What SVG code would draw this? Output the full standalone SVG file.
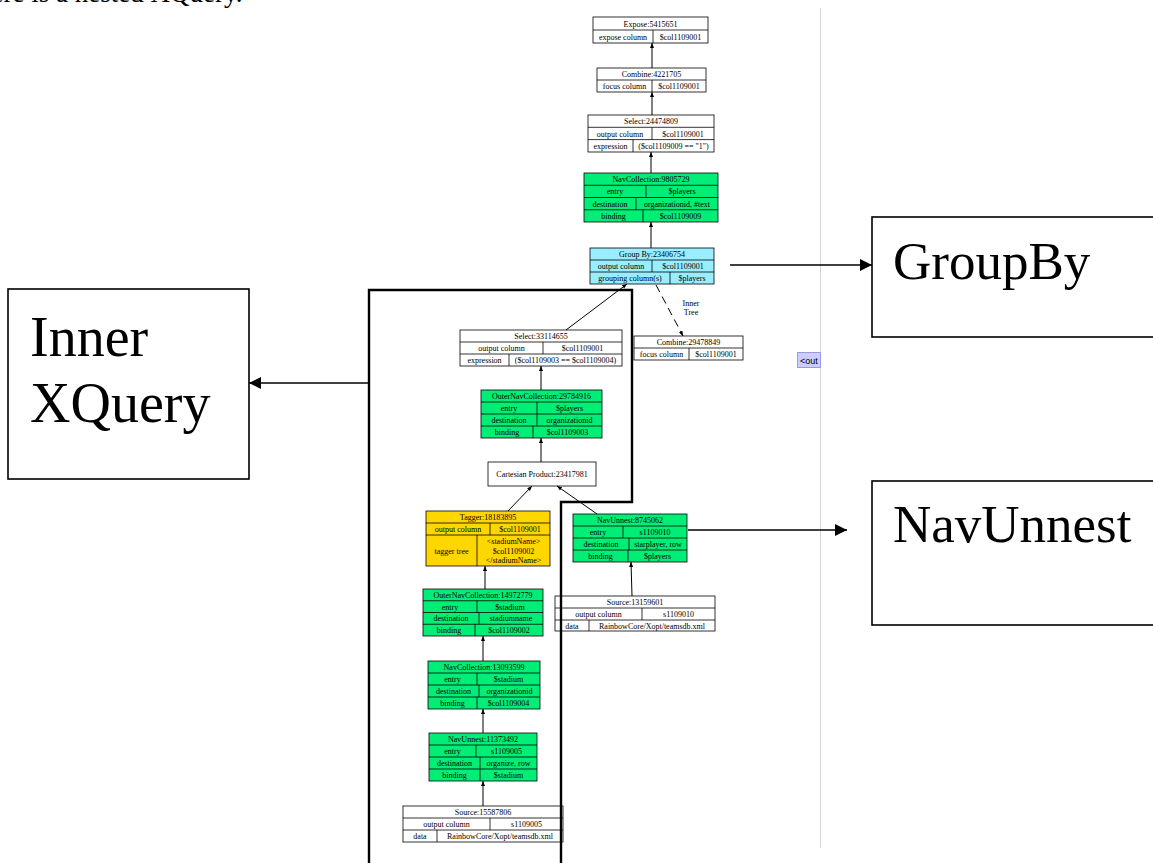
<svg xmlns="http://www.w3.org/2000/svg" width="1153" height="863" viewBox="0 0 1153 863">
  <style>
    .cell { stroke: #000; stroke-width: 0.8; fill: none; }
    .white { fill: #fff; }
    .green { fill: #00EE76; }
    .cyan { fill: #98EEFF; }
    .gold { fill: #FFD700; }
    .t { font-family: "Liberation Serif", "Times New Roman", serif; font-size: 8px; fill: #000; text-anchor: middle; }
    .edge { stroke: #000; stroke-width: 1; fill: none; }
    .note { stroke: #000; stroke-width: 1.6; fill: #fff; }
    .big { font-family: "Liberation Serif", "Times New Roman", serif; font-size: 56px; fill: #000; }
    .big2 { font-family: "Liberation Serif", "Times New Roman", serif; font-size: 53px; fill: #000; }
    .arrow { stroke: #000; stroke-width: 1.6; fill: none; }
  </style>
  <defs>
    <marker id="ah" viewBox="0 0 10 10" refX="10" refY="5" markerWidth="5" markerHeight="5" orient="auto" markerUnits="userSpaceOnUse">
      <path d="M0,1 L10,5 L0,9 Z" fill="#000"/>
    </marker>
    <marker id="big" viewBox="0 0 10 10" refX="10" refY="5" markerWidth="16" markerHeight="12" orient="auto" markerUnits="userSpaceOnUse">
      <path d="M0,0 L10,5 L0,10 Z" fill="#000"/>
    </marker>
  </defs>

  <rect width="1153" height="863" fill="#fff"/>

  <!-- heading, cut by the top edge -->
  <text x="-28" y="2" font-family="Liberation Serif, Times New Roman, serif" font-size="27" fill="#000">Here is a nested XQuery.</text>

  <!-- window edge and clipped tooltip -->
  <line x1="820.5" y1="8" x2="820.5" y2="848" stroke="#d4d4d4" stroke-width="1"/>
  <g id="tooltip">
    <rect x="797.5" y="352.5" width="23" height="15" fill="#ccccff" stroke="#9999dd" stroke-width="1"/>
    <text x="800" y="363.5" font-family="Liberation Sans, Arial, sans-serif" font-size="9" fill="#000">&lt;out</text>
  </g>

  <!-- plan nodes -->
  <g id="expose_5415651">
    <rect class="cell white" x="593" y="17" width="115" height="26"/>
    <line class="cell" x1="593" y1="30" x2="708" y2="30"/>
    <line class="cell" x1="653" y1="30" x2="653" y2="43"/>
    <text class="t" x="650.5" y="26.5">Expose:5415651</text>
    <text class="t" x="623" y="39.5">expose column</text>
    <text class="t" x="680.5" y="39.5">$col1109001</text>
  </g>

  <g id="combine_4221705">
    <rect class="cell white" x="597" y="68" width="109" height="24"/>
    <line class="cell" x1="597" y1="80" x2="706" y2="80"/>
    <line class="cell" x1="652" y1="80" x2="652" y2="92"/>
    <text class="t" x="651.5" y="77">Combine:4221705</text>
    <text class="t" x="624.5" y="89">focus column</text>
    <text class="t" x="679" y="89">$col1109001</text>
  </g>

  <g id="select_24474809">
    <rect class="cell white" x="588" y="115" width="126" height="37"/>
    <line class="cell" x1="588" y1="127.3" x2="714" y2="127.3"/>
    <line class="cell" x1="588" y1="139.6" x2="714" y2="139.6"/>
    <line class="cell" x1="652" y1="127.3" x2="652" y2="139.6"/>
    <line class="cell" x1="633" y1="139.6" x2="633" y2="152"/>
    <text class="t" x="651" y="124">Select:24474809</text>
    <text class="t" x="620" y="136.5">output column</text>
    <text class="t" x="683" y="136.5">$col1109001</text>
    <text class="t" x="610.5" y="148.8">expression</text>
    <text class="t" x="673.5" y="148.8">($col1109009 == "1")</text>
  </g>

  <g id="navcollection_9805729">
    <rect class="cell green" x="584" y="173" width="134" height="49"/>
    <line class="cell" x1="584" y1="185.25" x2="718" y2="185.25"/>
    <line class="cell" x1="584" y1="197.5" x2="718" y2="197.5"/>
    <line class="cell" x1="584" y1="209.75" x2="718" y2="209.75"/>
    <line class="cell" x1="646" y1="185.25" x2="646" y2="197.5"/>
    <line class="cell" x1="636" y1="197.5" x2="636" y2="209.75"/>
    <line class="cell" x1="643" y1="209.75" x2="643" y2="222"/>
    <text class="t" x="651" y="182">NavCollection:9805729</text>
    <text class="t" x="615" y="194.3">entry</text>
    <text class="t" x="682" y="194.3">$players</text>
    <text class="t" x="610" y="206.5">destination</text>
    <text class="t" x="677" y="206.5">organizationid, #text</text>
    <text class="t" x="613.5" y="218.8">binding</text>
    <text class="t" x="680.5" y="218.8">$col1109009</text>
  </g>

  <g id="groupby_23406754">
    <rect class="cell cyan" x="590" y="248" width="124" height="36"/>
    <line class="cell" x1="590" y1="260" x2="714" y2="260"/>
    <line class="cell" x1="590" y1="272" x2="714" y2="272"/>
    <line class="cell" x1="652" y1="260" x2="652" y2="272"/>
    <line class="cell" x1="670" y1="272" x2="670" y2="284"/>
    <text class="t" x="652" y="257">Group By:23406754</text>
    <text class="t" x="621" y="269">output column</text>
    <text class="t" x="683" y="269">$col1109001</text>
    <text class="t" x="630" y="281">grouping column(s)</text>
    <text class="t" x="692" y="281">$players</text>
  </g>

  <g id="combine_29478849">
    <rect class="cell white" x="634" y="336" width="109" height="24"/>
    <line class="cell" x1="634" y1="348" x2="743" y2="348"/>
    <line class="cell" x1="689" y1="348" x2="689" y2="360"/>
    <text class="t" x="688.5" y="345">Combine:29478849</text>
    <text class="t" x="661.5" y="357">focus column</text>
    <text class="t" x="716" y="357">$col1109001</text>
  </g>

  <g id="select_33114655">
    <rect class="cell white" x="460" y="330" width="162" height="36"/>
    <line class="cell" x1="460" y1="342" x2="622" y2="342"/>
    <line class="cell" x1="460" y1="354" x2="622" y2="354"/>
    <line class="cell" x1="543" y1="342" x2="543" y2="354"/>
    <line class="cell" x1="509" y1="354" x2="509" y2="366"/>
    <text class="t" x="541" y="339">Select:33114655</text>
    <text class="t" x="501.5" y="351">output column</text>
    <text class="t" x="582.5" y="351">$col1109001</text>
    <text class="t" x="484.5" y="363">expression</text>
    <text class="t" x="565.5" y="363">($col1109003 == $col1109004)</text>
  </g>

  <g id="outernavcollection_29784916">
    <rect class="cell green" x="481" y="390" width="121" height="48"/>
    <line class="cell" x1="481" y1="402" x2="602" y2="402"/>
    <line class="cell" x1="481" y1="414" x2="602" y2="414"/>
    <line class="cell" x1="481" y1="426" x2="602" y2="426"/>
    <line class="cell" x1="537" y1="402" x2="537" y2="414"/>
    <line class="cell" x1="537" y1="414" x2="537" y2="426"/>
    <line class="cell" x1="533" y1="426" x2="533" y2="438"/>
    <text class="t" x="541.5" y="399">OuterNavCollection:29784916</text>
    <text class="t" x="509" y="411">entry</text>
    <text class="t" x="569.5" y="411">$players</text>
    <text class="t" x="509" y="423">destination</text>
    <text class="t" x="569.5" y="423">organizationid</text>
    <text class="t" x="507" y="435">binding</text>
    <text class="t" x="567.5" y="435">$col1109003</text>
  </g>

  <g id="cartesianproduct_23417981">
    <rect class="cell white" x="488" y="462" width="108" height="24"/>
    <text class="t" x="542" y="477">Cartesian Product:23417981</text>
  </g>

  <g id="tagger_18183895">
    <rect class="cell gold" x="426" y="511" width="124" height="55"/>
    <line class="cell" x1="426" y1="523" x2="550" y2="523"/>
    <line class="cell" x1="426" y1="535" x2="550" y2="535"/>
    <line class="cell" x1="490" y1="523" x2="490" y2="535"/>
    <line class="cell" x1="477" y1="535" x2="477" y2="566"/>
    <text class="t" x="488" y="520">Tagger:18183895</text>
    <text class="t" x="458" y="532">output column</text>
    <text class="t" x="520" y="532">$col1109001</text>
    <text class="t" x="451.5" y="553.5">tagger tree</text>
    <text class="t" x="513.5" y="544">&lt;stadiumName&gt;</text>
    <text class="t" x="513.5" y="553.5">$col1109002</text>
    <text class="t" x="513.5" y="563">&lt;/stadiumName&gt;</text>
  </g>

  <g id="navunnest_8745062">
    <rect class="cell green" x="573" y="514" width="114" height="48"/>
    <line class="cell" x1="573" y1="526" x2="687" y2="526"/>
    <line class="cell" x1="573" y1="538" x2="687" y2="538"/>
    <line class="cell" x1="573" y1="550" x2="687" y2="550"/>
    <line class="cell" x1="623" y1="526" x2="623" y2="538"/>
    <line class="cell" x1="629" y1="538" x2="629" y2="550"/>
    <line class="cell" x1="628" y1="550" x2="628" y2="562"/>
    <text class="t" x="630" y="523">NavUnnest:8745062</text>
    <text class="t" x="598" y="535">entry</text>
    <text class="t" x="655" y="535">s1109010</text>
    <text class="t" x="601" y="547">destination</text>
    <text class="t" x="658" y="547">starplayer, row</text>
    <text class="t" x="600.5" y="559">binding</text>
    <text class="t" x="657.5" y="559">$players</text>
  </g>

  <g id="source_13159601">
    <rect class="cell white" x="555" y="596" width="160" height="35"/>
    <line class="cell" x1="555" y1="608" x2="715" y2="608"/>
    <line class="cell" x1="555" y1="620" x2="715" y2="620"/>
    <line class="cell" x1="642" y1="608" x2="642" y2="620"/>
    <line class="cell" x1="589" y1="620" x2="589" y2="631"/>
    <text class="t" x="635" y="605">Source:13159601</text>
    <text class="t" x="598.5" y="617">output column</text>
    <text class="t" x="678.5" y="617">s1109010</text>
    <text class="t" x="572" y="628.5">data</text>
    <text class="t" x="652" y="628.5">RainbowCore/Xopt/teamsdb.xml</text>
  </g>

  <g id="outernavcollection_14972779">
    <rect class="cell green" x="423" y="589" width="120" height="47"/>
    <line class="cell" x1="423" y1="600.75" x2="543" y2="600.75"/>
    <line class="cell" x1="423" y1="612.5" x2="543" y2="612.5"/>
    <line class="cell" x1="423" y1="624.25" x2="543" y2="624.25"/>
    <line class="cell" x1="477" y1="600.75" x2="477" y2="612.5"/>
    <line class="cell" x1="479" y1="612.5" x2="479" y2="624.25"/>
    <line class="cell" x1="475" y1="624.25" x2="475" y2="636"/>
    <text class="t" x="483" y="598">OuterNavCollection:14972779</text>
    <text class="t" x="450" y="609.5">entry</text>
    <text class="t" x="510" y="609.5">$stadium</text>
    <text class="t" x="451" y="621.3">destination</text>
    <text class="t" x="511" y="621.3">stadiumname</text>
    <text class="t" x="449" y="633">binding</text>
    <text class="t" x="509" y="633">$col1109002</text>
  </g>

  <g id="navcollection_13093599">
    <rect class="cell green" x="428" y="661" width="112" height="48"/>
    <line class="cell" x1="428" y1="673" x2="540" y2="673"/>
    <line class="cell" x1="428" y1="685" x2="540" y2="685"/>
    <line class="cell" x1="428" y1="697" x2="540" y2="697"/>
    <line class="cell" x1="477" y1="673" x2="477" y2="685"/>
    <line class="cell" x1="479" y1="685" x2="479" y2="697"/>
    <line class="cell" x1="477" y1="697" x2="477" y2="709"/>
    <text class="t" x="484" y="670">NavCollection:13093599</text>
    <text class="t" x="452.5" y="682">entry</text>
    <text class="t" x="508.5" y="682">$stadium</text>
    <text class="t" x="453.5" y="694">destination</text>
    <text class="t" x="509.5" y="694">organizationid</text>
    <text class="t" x="452.5" y="706">binding</text>
    <text class="t" x="508.5" y="706">$col1109004</text>
  </g>

  <g id="navunnest_11373492">
    <rect class="cell green" x="429" y="733" width="108" height="48"/>
    <line class="cell" x1="429" y1="745" x2="537" y2="745"/>
    <line class="cell" x1="429" y1="757" x2="537" y2="757"/>
    <line class="cell" x1="429" y1="769" x2="537" y2="769"/>
    <line class="cell" x1="476" y1="745" x2="476" y2="757"/>
    <line class="cell" x1="480" y1="757" x2="480" y2="769"/>
    <line class="cell" x1="480" y1="769" x2="480" y2="781"/>
    <text class="t" x="483" y="742">NavUnnest:11373492</text>
    <text class="t" x="452.5" y="754">entry</text>
    <text class="t" x="506.5" y="754">s1109005</text>
    <text class="t" x="454.5" y="766">destination</text>
    <text class="t" x="508.5" y="766">organize, row</text>
    <text class="t" x="454.5" y="778">binding</text>
    <text class="t" x="508.5" y="778">$stadium</text>
  </g>

  <g id="source_15587806">
    <rect class="cell white" x="403" y="806" width="160" height="36"/>
    <line class="cell" x1="403" y1="818" x2="563" y2="818"/>
    <line class="cell" x1="403" y1="830" x2="563" y2="830"/>
    <line class="cell" x1="490" y1="818" x2="490" y2="830"/>
    <line class="cell" x1="437" y1="830" x2="437" y2="842"/>
    <text class="t" x="483" y="815">Source:15587806</text>
    <text class="t" x="446.5" y="827">output column</text>
    <text class="t" x="526.5" y="827">s1109005</text>
    <text class="t" x="420" y="839">data</text>
    <text class="t" x="500" y="839">RainbowCore/Xopt/teamsdb.xml</text>
  </g>

  <!-- plan edges: data flows upward, heads at the consumer -->
  <g id="edges">
    <line class="edge" x1="652" y1="68" x2="652" y2="43" marker-end="url(#ah)"/>
    <line class="edge" x1="652" y1="115" x2="652" y2="92" marker-end="url(#ah)"/>
    <line class="edge" x1="651" y1="173" x2="651" y2="152" marker-end="url(#ah)"/>
    <line class="edge" x1="651" y1="248" x2="651" y2="222" marker-end="url(#ah)"/>
    <line class="edge" x1="566" y1="330" x2="627" y2="284" marker-end="url(#ah)"/>
    <line class="edge" x1="656" y1="285" x2="683" y2="336" stroke-dasharray="8,5" marker-end="url(#ah)"/>
    <line class="edge" x1="541" y1="390" x2="541" y2="366" marker-end="url(#ah)"/>
    <line class="edge" x1="541" y1="462" x2="541" y2="438" marker-end="url(#ah)"/>
    <line class="edge" x1="508" y1="511" x2="532" y2="486" marker-end="url(#ah)"/>
    <line class="edge" x1="597" y1="514" x2="557" y2="486" marker-end="url(#ah)"/>
    <line class="edge" x1="632" y1="596" x2="631" y2="562" marker-end="url(#ah)"/>
    <line class="edge" x1="485" y1="589" x2="485" y2="566" marker-end="url(#ah)"/>
    <line class="edge" x1="483" y1="661" x2="483" y2="636" marker-end="url(#ah)"/>
    <line class="edge" x1="483" y1="733" x2="483" y2="709" marker-end="url(#ah)"/>
    <line class="edge" x1="483" y1="806" x2="483" y2="781" marker-end="url(#ah)"/>
    <text class="t" x="691" y="306">Inner</text>
    <text class="t" x="691" y="315">Tree</text>
  </g>

  <!-- outline around the inner query -->
  <path d="M369,863 V290 H632 V502 H561 V863" fill="none" stroke="#000" stroke-width="2.4"/>

  <!-- callouts -->
  <g id="inner_xquery">
    <rect class="note" x="8" y="289" width="241" height="190"/>
    <text class="big" x="30" y="356">Inner</text>
    <text class="big" x="30" y="422">XQuery</text>
  </g>
  <g id="groupby_note">
    <rect class="note" x="872" y="217" width="300" height="120"/>
    <text class="big2" x="893" y="279">GroupBy</text>
  </g>
  <g id="navunnest_note">
    <rect class="note" x="872" y="481" width="300" height="144"/>
    <text class="big2" x="893" y="542">NavUnnest</text>
  </g>
  <g id="callout_arrows">
    <line class="arrow" x1="369" y1="383" x2="249" y2="383" marker-end="url(#big)"/>
    <line class="arrow" x1="730" y1="265" x2="872" y2="265" marker-end="url(#big)"/>
    <line class="arrow" x1="688" y1="530" x2="847" y2="530" marker-end="url(#big)"/>
  </g>
</svg>
